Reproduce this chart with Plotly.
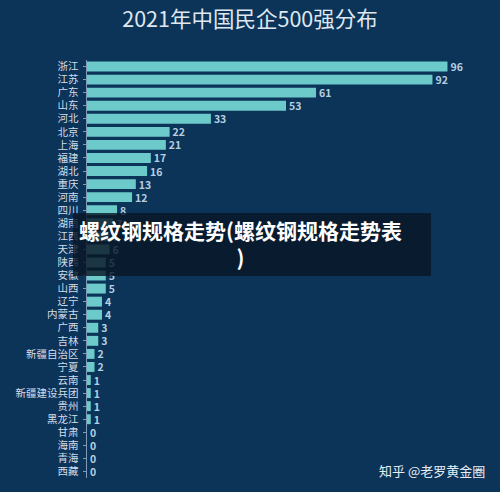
import plotly.graph_objects as go

provinces = ['浙江', '江苏', '广东', '山东', '河北', '北京', '上海', '福建', '湖北', '重庆',
             '河南', '四川', '湖南', '江西', '天津', '陕西', '安徽', '山西', '辽宁', '内蒙古',
             '广西', '吉林', '新疆自治区', '宁夏', '云南', '新疆建设兵团', '贵州', '黑龙江',
             '甘肃', '海南', '青海', '西藏']
counts = [96, 92, 61, 53, 33, 22, 21, 17, 16, 13,
          12, 8, 7, 6, 6, 5, 5, 5, 4, 4,
          3, 3, 2, 2, 1, 1, 1, 1,
          0, 0, 0, 0]

bg = '#0c3358'
font = 'Noto Sans CJK SC'

fig = go.Figure(go.Bar(
    x=counts, y=provinces, orientation='h',
    marker=dict(color='#6dcaca', line=dict(width=0)),
    text=['<b>%d</b>' % c for c in counts], textposition='outside', cliponaxis=False,
    constraintext='none',
    textfont=dict(family=font, size=10.5, color='#b4cfe0'),
    width=0.76,
))

fig.update_layout(
    width=500, height=492,
    paper_bgcolor=bg, plot_bgcolor=bg,
    margin=dict(l=87, r=30, t=60, b=14),
    showlegend=False,
    title=dict(text='2021年中国民企500强分布', x=0.5, xanchor='center', y=0.96, yanchor='middle',
               font=dict(family=font, size=21.5, color='#dfe7ef')),
    xaxis=dict(range=[0, 102], visible=False),
    yaxis=dict(autorange='reversed', showline=True, linecolor='#7f9bb5', linewidth=1,
               ticks='outside', ticklen=3, tickcolor='#7f9bb5', showgrid=False,
               tickfont=dict(family=font, size=10.5, color='#d3dde8'), ticksuffix=' '),
)

# overlay box with the article title across the chart
fig.add_shape(type='rect', xref='paper', yref='paper',
              x0=-0.037, x1=0.898, y0=0.483, y1=0.634,
              fillcolor='rgba(8,22,38,0.82)', line=dict(width=0), layer='above')
fig.add_annotation(xref='paper', yref='paper', x=0.402, y=0.56,
                   text='<b>螺纹钢规格走势(螺纹钢规格走势表<br>)</b>', showarrow=False,
                   align='center', font=dict(family=font, size=21, color='white'))

fig.add_annotation(xref='paper', yref='paper', x=1.044, y=0.019, xanchor='right', yanchor='middle',
                   text='知乎 @老罗黄金圈', showarrow=False,
                   font=dict(family=font, size=13, color='#e8eef4'))

fig.write_html('out.html', config={'displayModeBar': False},
               post_script="document.body.style.margin='0';")
